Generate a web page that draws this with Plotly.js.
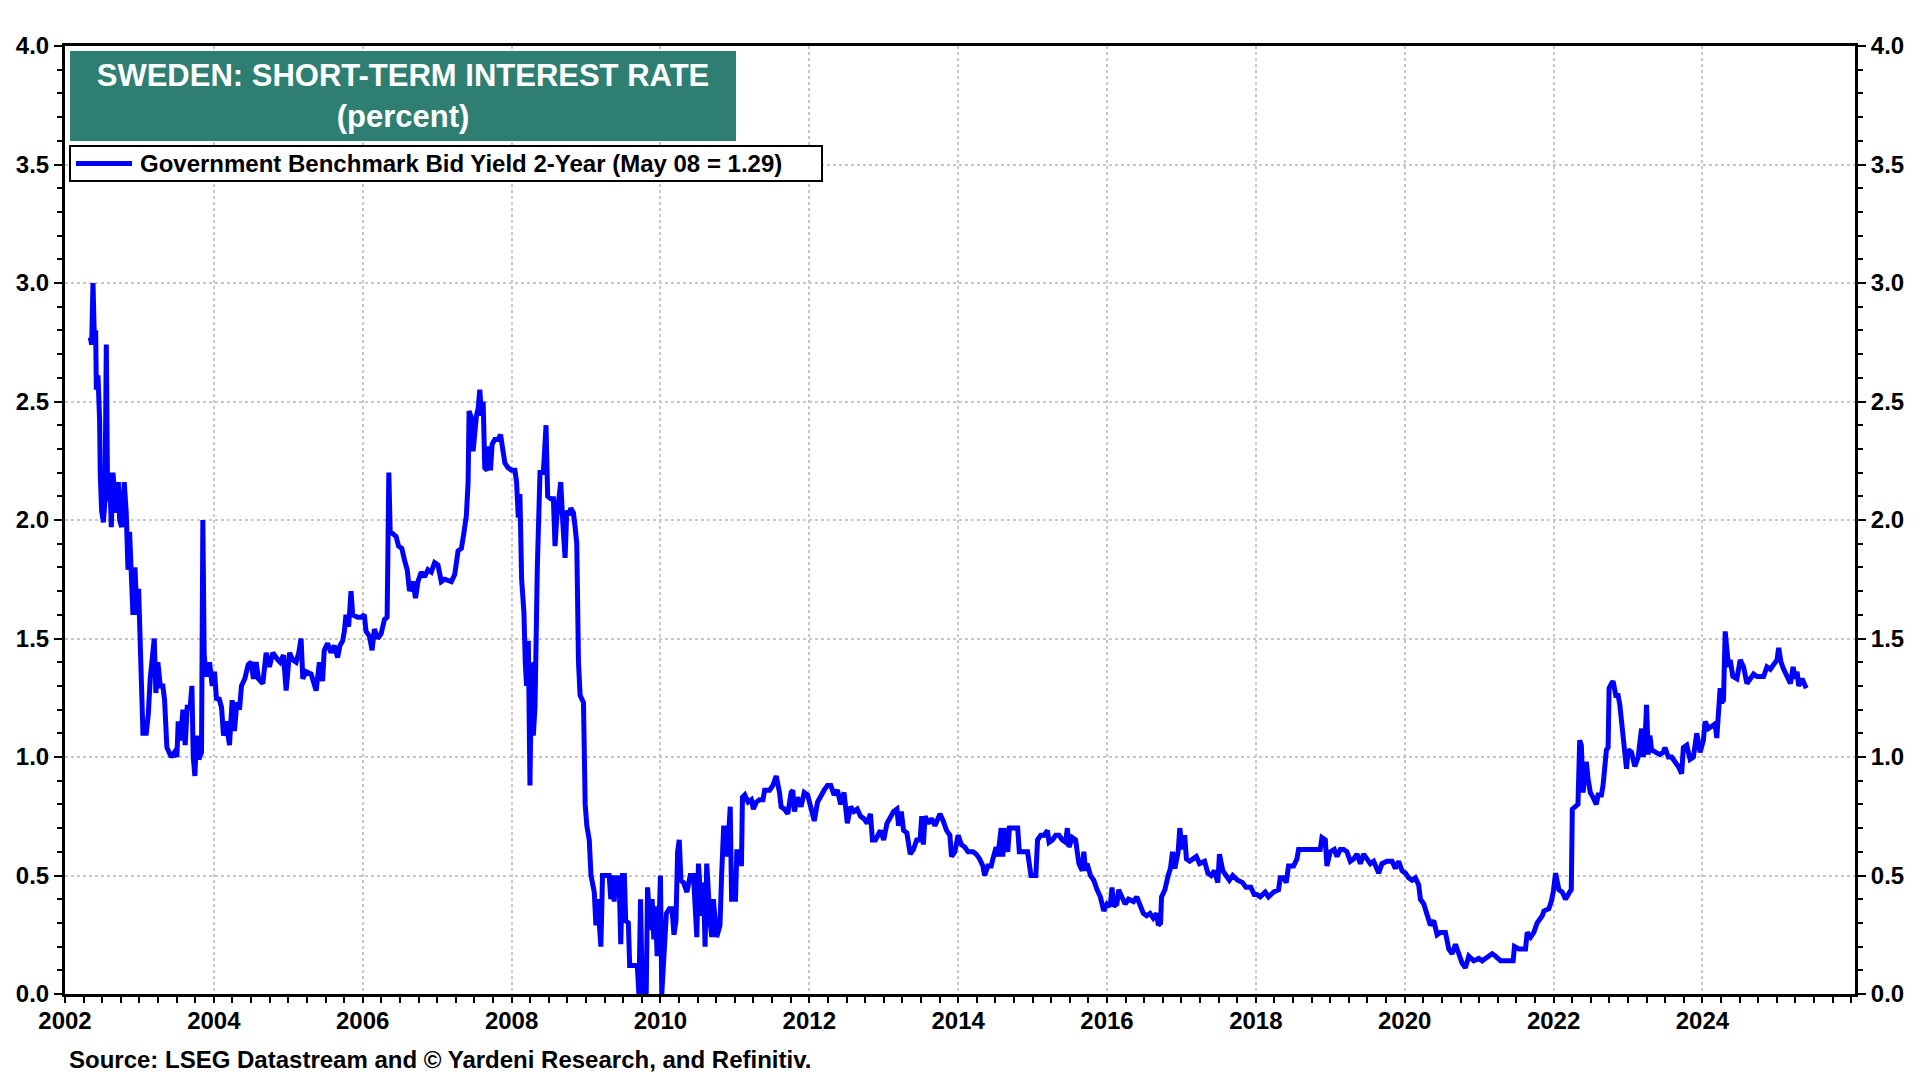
<!DOCTYPE html>
<html>
<head>
<meta charset="utf-8">
<script src="https://cdn.plot.ly/plotly-3.0.1.min.js"></script>
<style>
  html, body { margin: 0; padding: 0; background: #fff; }
  #chart { width: 1920px; height: 1080px; }
</style>
</head>
<body>
<div id="chart"></div>
<script>
'use strict';

// Sweden 2-year government benchmark bid yield, [decimal year, percent]
const yld2002 = [[2002.340,2.77],[2002.358,2.74],[2002.376,3.00],[2002.394,2.77],[2002.412,2.80],[2002.421,2.55],[2002.443,2.61],[2002.465,2.42],[2002.474,2.19],[2002.492,2.04],[2002.515,1.99],[2002.537,2.08],[2002.555,2.74],[2002.573,2.08],[2002.600,2.20],[2002.622,1.97],[2002.644,2.20],[2002.667,2.08],[2002.689,2.03],[2002.716,2.16],[2002.734,2.00],[2002.761,1.97],[2002.796,2.16],[2002.823,2.03],[2002.846,1.79],[2002.868,1.95],[2002.890,1.79],[2002.913,1.60],[2002.940,1.80],[2002.966,1.60],[2002.989,1.71]];
const yld2003 = [[2003.007,1.50],[2003.025,1.39],[2003.047,1.10],[2003.092,1.10],[2003.119,1.18],[2003.145,1.33],[2003.172,1.40],[2003.199,1.50],[2003.221,1.27],[2003.248,1.40],[2003.280,1.30],[2003.315,1.30],[2003.338,1.24],[2003.351,1.09],[2003.369,1.04],[2003.427,1.00],[2003.472,1.02],[2003.503,1.00],[2003.521,1.15],[2003.553,1.07],[2003.584,1.20],[2003.615,1.05],[2003.642,1.21],[2003.682,1.21],[2003.705,1.30],[2003.723,1.00],[2003.745,0.92],[2003.767,1.09],[2003.799,0.99],[2003.834,1.02],[2003.852,2.00],[2003.870,1.43],[2003.897,1.34],[2003.942,1.40],[2003.978,1.30]];
const yld2004 = [[2004.009,1.36],[2004.036,1.24],[2004.067,1.25],[2004.103,1.21],[2004.130,1.09],[2004.166,1.15],[2004.210,1.05],[2004.246,1.24],[2004.277,1.11],[2004.309,1.23],[2004.345,1.20],[2004.371,1.30],[2004.416,1.33],[2004.461,1.39],[2004.501,1.40],[2004.532,1.33],[2004.568,1.40],[2004.600,1.33],[2004.658,1.31],[2004.702,1.44],[2004.747,1.38],[2004.792,1.44],[2004.859,1.41],[2004.890,1.40],[2004.935,1.43],[2004.971,1.28]];
const yld2005 = [[2005.016,1.44],[2005.060,1.41],[2005.105,1.40],[2005.141,1.44],[2005.172,1.50],[2005.195,1.33],[2005.239,1.36],[2005.307,1.35],[2005.374,1.28],[2005.418,1.40],[2005.461,1.32],[2005.483,1.45],[2005.528,1.48],[2005.573,1.44],[2005.618,1.47],[2005.663,1.42],[2005.694,1.47],[2005.730,1.49],[2005.753,1.53],[2005.775,1.60],[2005.811,1.55],[2005.843,1.70],[2005.865,1.60],[2005.933,1.59],[2005.978,1.59]];
const yld2006 = [[2006.022,1.60],[2006.045,1.53],[2006.090,1.51],[2006.126,1.45],[2006.157,1.54],[2006.202,1.50],[2006.247,1.52],[2006.292,1.58],[2006.328,1.59],[2006.351,2.20],[2006.369,1.95],[2006.413,1.94],[2006.449,1.93],[2006.481,1.89],[2006.526,1.88],[2006.562,1.83],[2006.598,1.79],[2006.629,1.70],[2006.674,1.74],[2006.710,1.67],[2006.742,1.74],[2006.787,1.78],[2006.831,1.76],[2006.876,1.79],[2006.921,1.78],[2006.966,1.82]];
const yld2007 = [[2007.011,1.81],[2007.056,1.74],[2007.101,1.75],[2007.191,1.74],[2007.236,1.77],[2007.281,1.87],[2007.326,1.88],[2007.357,1.94],[2007.393,2.02],[2007.416,2.16],[2007.429,2.46],[2007.461,2.43],[2007.483,2.29],[2007.528,2.44],[2007.551,2.47],[2007.573,2.55],[2007.596,2.44],[2007.618,2.50],[2007.640,2.22],[2007.672,2.21],[2007.694,2.31],[2007.717,2.21],[2007.739,2.32],[2007.775,2.34],[2007.820,2.34],[2007.852,2.36],[2007.879,2.31],[2007.910,2.24],[2007.955,2.22]];
const yld2008 = [[2008.000,2.21],[2008.045,2.21],[2008.067,2.16],[2008.090,2.01],[2008.112,2.11],[2008.135,1.75],[2008.166,1.61],[2008.184,1.40],[2008.202,1.30],[2008.225,1.49],[2008.247,0.88],[2008.270,1.40],[2008.292,1.09],[2008.315,1.21],[2008.328,1.59],[2008.346,1.80],[2008.364,2.00],[2008.382,2.20],[2008.427,2.20],[2008.463,2.40],[2008.485,2.10],[2008.526,2.09],[2008.562,2.09],[2008.584,1.89],[2008.607,2.01],[2008.643,2.12],[2008.661,2.16],[2008.688,1.99],[2008.719,1.84],[2008.742,2.04],[2008.773,2.02],[2008.796,2.05],[2008.831,2.03],[2008.854,1.97],[2008.876,1.90],[2008.899,1.40],[2008.921,1.26],[2008.966,1.23],[2008.989,0.80]];
const yld2009 = [[2009.011,0.71],[2009.044,0.65],[2009.067,0.50],[2009.111,0.43],[2009.133,0.29],[2009.156,0.40],[2009.200,0.20],[2009.222,0.50],[2009.311,0.50],[2009.333,0.40],[2009.356,0.50],[2009.378,0.39],[2009.400,0.50],[2009.422,0.44],[2009.444,0.50],[2009.467,0.21],[2009.489,0.50],[2009.516,0.50],[2009.533,0.31],[2009.569,0.30],[2009.587,0.12],[2009.689,0.12],[2009.711,0.00],[2009.733,0.40],[2009.756,0.00],[2009.809,0.00],[2009.827,0.45],[2009.844,0.38],[2009.867,0.27],[2009.889,0.40],[2009.911,0.23],[2009.933,0.37],[2009.956,0.16],[2009.978,0.26]];
const yld2010 = [[2010.000,0.50],[2010.018,0.00],[2010.036,0.09],[2010.058,0.24],[2010.080,0.34],[2010.120,0.36],[2010.156,0.36],[2010.182,0.25],[2010.209,0.31],[2010.231,0.60],[2010.253,0.65],[2010.276,0.48],[2010.311,0.47],[2010.356,0.43],[2010.400,0.50],[2010.444,0.50],[2010.467,0.40],[2010.489,0.24],[2010.511,0.55],[2010.533,0.45],[2010.556,0.33],[2010.578,0.47],[2010.600,0.20],[2010.622,0.55],[2010.644,0.40],[2010.667,0.31],[2010.689,0.24],[2010.711,0.40],[2010.756,0.24],[2010.800,0.29],[2010.822,0.50],[2010.849,0.70],[2010.876,0.70],[2010.898,0.58],[2010.938,0.79],[2010.956,0.40]];
const yld2011 = [[2011.009,0.40],[2011.027,0.61],[2011.053,0.55],[2011.089,0.55],[2011.102,0.83],[2011.133,0.84],[2011.178,0.81],[2011.222,0.82],[2011.249,0.78],[2011.289,0.81],[2011.333,0.82],[2011.378,0.82],[2011.400,0.86],[2011.467,0.86],[2011.511,0.88],[2011.556,0.92],[2011.600,0.85],[2011.622,0.79],[2011.667,0.78],[2011.711,0.76],[2011.756,0.85],[2011.778,0.86],[2011.800,0.77],[2011.844,0.83],[2011.889,0.79],[2011.933,0.85],[2011.978,0.84]];
const yld2012 = [[2012.022,0.79],[2012.067,0.73],[2012.111,0.81],[2012.156,0.84],[2012.200,0.86],[2012.244,0.88],[2012.289,0.88],[2012.333,0.84],[2012.378,0.86],[2012.422,0.80],[2012.467,0.85],[2012.511,0.72],[2012.556,0.79],[2012.600,0.77],[2012.644,0.78],[2012.689,0.75],[2012.733,0.74],[2012.778,0.72],[2012.822,0.76],[2012.849,0.65],[2012.889,0.65],[2012.956,0.69]];
const yld2013 = [[2013.000,0.65],[2013.044,0.72],[2013.089,0.75],[2013.133,0.77],[2013.178,0.78],[2013.200,0.71],[2013.236,0.77],[2013.267,0.69],[2013.311,0.68],[2013.333,0.62],[2013.356,0.59],[2013.400,0.61],[2013.444,0.65],[2013.489,0.65],[2013.511,0.75],[2013.533,0.63],[2013.556,0.75],[2013.600,0.72],[2013.644,0.74],[2013.689,0.71],[2013.756,0.76],[2013.800,0.73],[2013.844,0.69],[2013.889,0.67],[2013.911,0.58],[2013.956,0.60]];
const yld2014 = [[2014.000,0.67],[2014.044,0.63],[2014.089,0.62],[2014.133,0.60],[2014.200,0.60],[2014.244,0.59],[2014.289,0.57],[2014.333,0.54],[2014.356,0.50],[2014.400,0.54],[2014.444,0.54],[2014.467,0.57],[2014.511,0.62],[2014.533,0.58],[2014.578,0.70],[2014.600,0.58],[2014.622,0.70],[2014.667,0.60],[2014.689,0.70],[2014.800,0.70],[2014.822,0.60],[2014.933,0.60],[2014.956,0.55],[2014.978,0.50]];
const yld2015 = [[2015.044,0.50],[2015.067,0.65],[2015.111,0.67],[2015.156,0.67],[2015.200,0.69],[2015.222,0.64],[2015.267,0.65],[2015.311,0.67],[2015.356,0.67],[2015.400,0.65],[2015.444,0.64],[2015.467,0.70],[2015.489,0.62],[2015.533,0.66],[2015.578,0.65],[2015.622,0.55],[2015.667,0.52],[2015.689,0.60],[2015.711,0.52],[2015.733,0.55],[2015.778,0.50],[2015.822,0.48],[2015.867,0.44],[2015.911,0.41],[2015.956,0.35]];
const yld2016 = [[2016.000,0.38],[2016.044,0.37],[2016.067,0.45],[2016.089,0.37],[2016.133,0.38],[2016.156,0.44],[2016.200,0.41],[2016.244,0.38],[2016.289,0.40],[2016.356,0.39],[2016.400,0.41],[2016.444,0.37],[2016.489,0.34],[2016.533,0.33],[2016.578,0.34],[2016.622,0.32],[2016.667,0.34],[2016.689,0.29],[2016.720,0.30],[2016.733,0.41],[2016.778,0.44],[2016.822,0.50],[2016.853,0.53],[2016.880,0.60],[2016.911,0.53],[2016.956,0.60],[2016.978,0.70]];
const yld2017 = [[2017.013,0.61],[2017.044,0.67],[2017.067,0.57],[2017.111,0.56],[2017.156,0.57],[2017.200,0.58],[2017.244,0.55],[2017.311,0.56],[2017.356,0.51],[2017.400,0.50],[2017.444,0.52],[2017.489,0.47],[2017.511,0.59],[2017.556,0.52],[2017.600,0.50],[2017.644,0.48],[2017.689,0.50],[2017.756,0.48],[2017.822,0.47],[2017.867,0.45],[2017.933,0.45],[2017.978,0.42]];
const yld2018 = [[2018.013,0.42],[2018.058,0.41],[2018.126,0.43],[2018.170,0.41],[2018.238,0.43],[2018.305,0.44],[2018.327,0.49],[2018.372,0.49],[2018.408,0.47],[2018.439,0.54],[2018.507,0.54],[2018.552,0.57],[2018.574,0.61],[2018.865,0.61],[2018.888,0.66],[2018.933,0.65],[2018.955,0.54]];
const yld2019 = [[2019.000,0.60],[2019.054,0.61],[2019.090,0.58],[2019.135,0.61],[2019.179,0.61],[2019.224,0.60],[2019.269,0.56],[2019.314,0.57],[2019.359,0.59],[2019.404,0.55],[2019.448,0.59],[2019.493,0.57],[2019.538,0.55],[2019.583,0.56],[2019.650,0.51],[2019.695,0.55],[2019.762,0.56],[2019.830,0.56],[2019.874,0.53],[2019.919,0.56],[2019.964,0.52]];
const yld2020 = [[2020.009,0.51],[2020.054,0.49],[2020.099,0.48],[2020.143,0.49],[2020.188,0.46],[2020.211,0.40],[2020.256,0.38],[2020.300,0.34],[2020.345,0.29],[2020.390,0.31],[2020.435,0.25],[2020.480,0.26],[2020.547,0.26],[2020.592,0.19],[2020.637,0.17],[2020.682,0.21],[2020.726,0.17],[2020.771,0.13],[2020.816,0.11],[2020.861,0.16],[2020.928,0.14],[2020.996,0.15]];
const yld2021 = [[2021.040,0.14],[2021.085,0.15],[2021.130,0.16],[2021.175,0.17],[2021.220,0.16],[2021.287,0.14],[2021.377,0.14],[2021.457,0.14],[2021.475,0.20],[2021.534,0.19],[2021.623,0.19],[2021.646,0.26],[2021.691,0.24],[2021.735,0.26],[2021.780,0.30],[2021.848,0.33],[2021.870,0.35],[2021.937,0.36],[2021.969,0.39],[2021.996,0.43]];
const yld2022 = [[2022.027,0.51],[2022.072,0.44],[2022.117,0.43],[2022.161,0.40],[2022.216,0.43],[2022.238,0.44],[2022.252,0.78],[2022.283,0.79],[2022.328,0.80],[2022.351,1.07],[2022.373,1.05],[2022.396,0.85],[2022.440,0.98],[2022.463,0.91],[2022.494,0.85],[2022.530,0.83],[2022.575,0.80],[2022.598,0.84],[2022.643,0.84],[2022.665,0.88],[2022.697,0.96],[2022.710,1.03],[2022.733,1.04],[2022.746,1.29],[2022.778,1.31],[2022.800,1.32],[2022.836,1.26],[2022.867,1.26],[2022.890,1.22],[2022.912,1.15],[2022.935,1.09],[2022.957,1.02],[2022.980,0.95]];
const yld2023 = [[2023.002,1.03],[2023.047,1.02],[2023.092,0.96],[2023.137,1.00],[2023.182,1.12],[2023.204,1.00],[2023.227,1.05],[2023.249,1.22],[2023.272,1.01],[2023.294,1.09],[2023.317,1.03],[2023.362,1.02],[2023.429,1.01],[2023.474,1.02],[2023.497,1.04],[2023.542,1.00],[2023.587,1.00],[2023.631,0.98],[2023.676,0.96],[2023.721,0.93],[2023.744,1.04],[2023.789,1.05],[2023.834,0.99],[2023.879,1.00],[2023.924,1.10],[2023.969,1.02]];
const yld2024 = [[2024.013,1.07],[2024.036,1.15],[2024.081,1.12],[2024.126,1.13],[2024.171,1.14],[2024.193,1.08],[2024.216,1.20],[2024.238,1.29],[2024.261,1.23],[2024.283,1.24],[2024.306,1.53],[2024.328,1.45],[2024.351,1.38],[2024.373,1.41],[2024.409,1.34],[2024.463,1.33],[2024.508,1.41],[2024.553,1.38],[2024.598,1.31],[2024.643,1.33],[2024.688,1.35],[2024.733,1.34],[2024.778,1.34],[2024.822,1.34],[2024.867,1.38],[2024.912,1.37],[2024.957,1.39]];
const yld2025 = [[2025.002,1.41],[2025.025,1.46],[2025.056,1.40],[2025.092,1.37],[2025.137,1.34],[2025.182,1.31],[2025.218,1.38],[2025.249,1.33],[2025.272,1.36],[2025.294,1.30],[2025.339,1.33],[2025.370,1.31],[2025.395,1.29]];

const yearTicks = [2002, 2004, 2006, 2008, 2010, 2012, 2014, 2016, 2018, 2020, 2022, 2024];
const seriesName = 'Government Benchmark Bid Yield 2-Year (May 08 = 1.29)';
const chartTitle = 'SWEDEN: SHORT-TERM INTEREST RATE';
const chartUnit = '(percent)';
const sourceNote = 'Source: LSEG Datastream and © Yardeni Research, and Refinitiv.';

// ── plot geometry (px) ──
const W = 1920, H = 1080;
const M = { l: 65, r: 65, t: 46, b: 86 };
const PW = W - M.l - M.r, PH = H - M.t - M.b;
const px2x = x => (x - M.l) / PW;
const px2y = y => (H - M.b - y) / PH;

const FONT = 'Liberation Sans, Arial, Helvetica, sans-serif';
const GRID = '#c8c8c8';
const BLUE = '#0000ff';

const all = [].concat(yld2002, yld2003, yld2004, yld2005, yld2006, yld2007, yld2008, yld2009, yld2010, yld2011, yld2012,
    yld2013, yld2014, yld2015, yld2016, yld2017, yld2018, yld2019, yld2020, yld2021, yld2022, yld2023, yld2024, yld2025);
const xs = all.map(p => p[0]), ys = all.map(p => p[1]);

const tickFont = { family: FONT, size: 24, color: '#000', weight: 'bold' };
const yCommon = {
    range: [0, 4], tick0: 0, dtick: 0.5, tickformat: '.1f',
    ticks: 'outside', ticklen: 8, tickwidth: 2, tickcolor: '#000',
    showline: true, linewidth: 3, linecolor: '#000', zeroline: false,
    tickfont: tickFont, fixedrange: true,
    minor: { dtick: 0.1, ticks: 'outside', ticklen: 5, tickwidth: 2, tickcolor: '#000', showgrid: false }
};

const traces = [
    { x: xs, y: ys, type: 'scatter', mode: 'lines', name: seriesName,
      line: { color: BLUE, width: 5 }, hoverinfo: 'skip' },
    // carries the right-hand axis
    { x: xs, y: ys, type: 'scatter', mode: 'lines', yaxis: 'y2',
      line: { color: 'rgba(0,0,0,0)', width: 0 }, hoverinfo: 'skip' }
];

// ── legend box drawn by hand so its size matches ──
const lgY = (146 + 181) / 2;
const shapes = [
    { type: 'rect', xref: 'paper', yref: 'paper', x0: px2x(70), x1: px2x(822), y0: px2y(146), y1: px2y(181),
      fillcolor: '#fff', line: { color: '#000', width: 2 }, layer: 'above' },
    { type: 'line', xref: 'paper', yref: 'paper', x0: px2x(76), x1: px2x(132), y0: px2y(lgY), y1: px2y(lgY),
      line: { color: BLUE, width: 5 }, layer: 'above' }
];

const layout = {
    width: W, height: H, margin: M,
    paper_bgcolor: '#fff', plot_bgcolor: '#fff',
    font: { family: FONT, color: '#000' },
    hovermode: false, showlegend: false,
    xaxis: {
        range: [2002, 2026.05], tickmode: 'array', tickvals: yearTicks, ticktext: yearTicks.map(String),
        ticks: 'outside', ticklen: 6, tickwidth: 2, tickcolor: '#000', ticklabelstandoff: -3,
        showline: true, linewidth: 3, linecolor: '#000', mirror: true, zeroline: false,
        showgrid: true, gridcolor: GRID, gridwidth: 2, griddash: 'dot',
        tickfont: tickFont, fixedrange: true,
        minor: { tickmode: 'linear', tick0: 2002, dtick: 0.25, ticks: 'outside', ticklen: 6, tickwidth: 2, tickcolor: '#000', showgrid: false }
    },
    yaxis: Object.assign({}, yCommon, { side: 'left', showgrid: true, gridcolor: GRID, gridwidth: 2, griddash: 'dot' }),
    yaxis2: Object.assign({}, yCommon, { side: 'right', overlaying: 'y', showgrid: false }),
    shapes,
    annotations: [
        { xref: 'paper', yref: 'paper', x: px2x(70), y: px2y(51), xanchor: 'left', yanchor: 'top',
          width: 666, height: 90, align: 'center', valign: 'middle',
          bgcolor: '#2e7f72', borderpad: 0, borderwidth: 0, showarrow: false,
          text: '<b>' + chartTitle + '</b><br><b>' + chartUnit + '</b>',
          font: { family: FONT, size: 31, color: '#fff' } },
        { xref: 'paper', yref: 'paper', x: px2x(139), y: px2y(lgY), xanchor: 'left', yanchor: 'middle',
          showarrow: false, borderpad: 0, text: '<b>' + seriesName + '</b>',
          font: { family: FONT, size: 24, color: '#000' } },
        { xref: 'paper', yref: 'paper', x: px2x(68), y: px2y(1059), xanchor: 'left', yanchor: 'middle',
          showarrow: false, borderpad: 0, text: '<b>' + sourceNote + '</b>',
          font: { family: FONT, size: 24, color: '#000' } }
    ]
};

Plotly.newPlot('chart', traces, layout, { staticPlot: true, displayModeBar: false });
</script>
</body>
</html>
